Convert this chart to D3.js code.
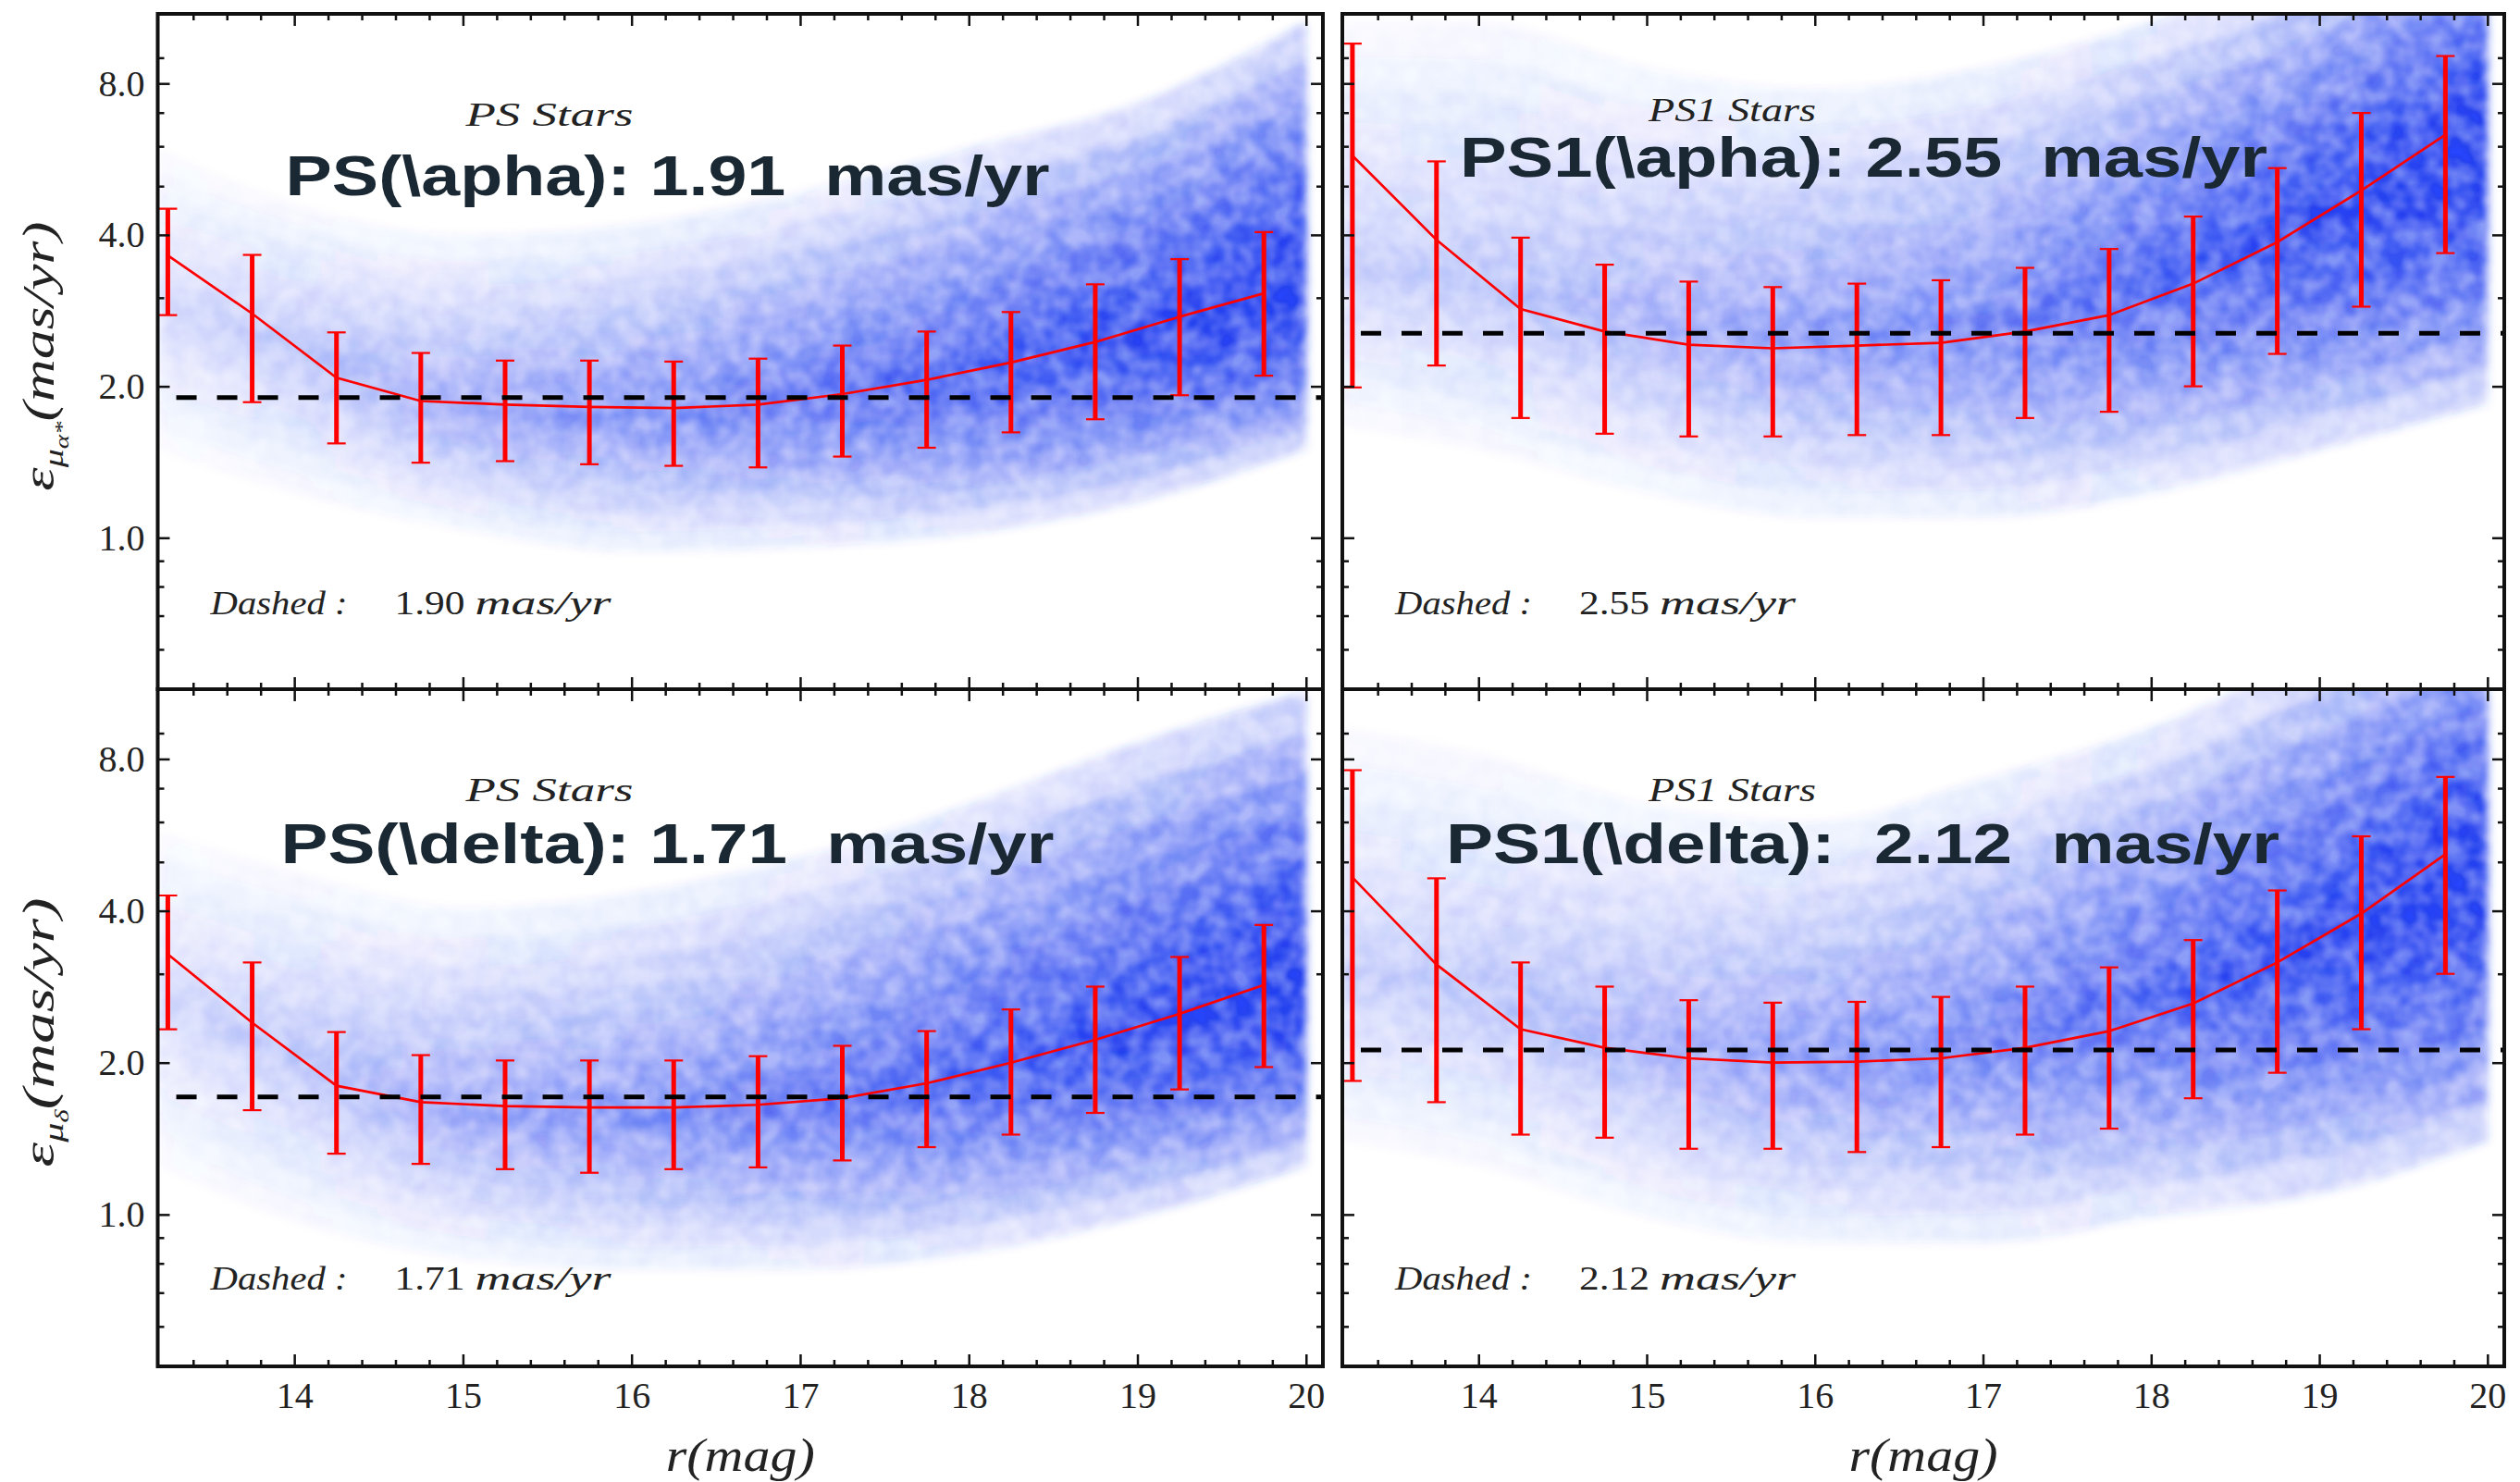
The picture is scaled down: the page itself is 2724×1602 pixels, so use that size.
<!DOCTYPE html>
<html>
<head>
<meta charset="utf-8">
<script src="https://cdn.jsdelivr.net/npm/d3@7"></script>
<style>body{margin:0;background:#fff}</style>
</head>
<body>
<script>
// DATA
var rBins = [13.25, 13.75, 14.25, 14.75, 15.25, 15.75, 16.25, 16.75, 17.25, 17.75, 18.25, 18.75, 19.25, 19.75];

var psAlphaMid = [3.64, 2.79, 2.08, 1.87, 1.84, 1.82, 1.81, 1.84, 1.93, 2.06, 2.23, 2.45, 2.75, 3.06];
var psAlphaHi  = [4.51, 3.65, 2.56, 2.33, 2.25, 2.25, 2.24, 2.27, 2.41, 2.57, 2.81, 3.19, 3.58, 4.05];
var psAlphaLo  = [2.77, 1.86, 1.54, 1.41, 1.42, 1.40, 1.39, 1.38, 1.45, 1.51, 1.62, 1.72, 1.92, 2.10];

var ps1AlphaMid = [5.75, 3.91, 2.85, 2.57, 2.42, 2.38, 2.41, 2.44, 2.57, 2.77, 3.20, 3.87, 4.90, 6.33];
var ps1AlphaHi  = [9.60, 5.60, 3.95, 3.49, 3.23, 3.15, 3.20, 3.25, 3.44, 3.75, 4.35, 5.43, 6.99, 9.07];
var ps1AlphaLo  = [1.99, 2.20, 1.73, 1.61, 1.59, 1.59, 1.60, 1.60, 1.73, 1.78, 2.00, 2.32, 2.88, 3.68];

var psDeltaMid = [3.28, 2.40, 1.80, 1.67, 1.64, 1.63, 1.63, 1.65, 1.70, 1.82, 2.00, 2.22, 2.50, 2.85];
var psDeltaHi  = [4.29, 3.16, 2.30, 2.07, 2.02, 2.02, 2.02, 2.06, 2.16, 2.31, 2.55, 2.83, 3.24, 3.75];
var psDeltaLo  = [2.33, 1.61, 1.32, 1.26, 1.23, 1.21, 1.23, 1.24, 1.28, 1.36, 1.44, 1.59, 1.77, 1.96];

var ps1DeltaMid = [4.66, 3.13, 2.33, 2.14, 2.04, 2.00, 2.01, 2.04, 2.14, 2.31, 2.62, 3.16, 3.95, 5.18];
var ps1DeltaHi  = [7.60, 4.64, 3.16, 2.83, 2.66, 2.63, 2.64, 2.70, 2.83, 3.09, 3.50, 4.39, 5.62, 7.37];
var ps1DeltaLo  = [1.84, 1.67, 1.44, 1.42, 1.35, 1.35, 1.33, 1.36, 1.44, 1.48, 1.70, 1.91, 2.33, 3.00];

var dashedValues = [1.90, 2.55, 1.71, 2.12];
var bigLabels = ["PS(\\apha): 1.91  mas/yr", "PS1(\\apha): 2.55  mas/yr", "PS(\\delta): 1.71  mas/yr", "PS1(\\delta):  2.12  mas/yr"];
var starLabels = ["PS Stars", "PS1 Stars", "PS Stars", "PS1 Stars"];
var dashedText = ["1.90", "2.55", "1.71", "2.12"];

// star cloud (density band)
var cloudR = [13.19, 14, 15, 16, 17, 18, 19, 20];
var psAlphaCloudMid = [2.9, 2.4, 1.8, 1.75, 1.9, 2.1, 2.5, 3.0];
var psAlphaCloudLo  = [1.5, 1.23, 1.04, 0.94, 0.96, 1.02, 1.18, 1.5];
var psAlphaCloudHi  = [5.95, 4.6, 4.0, 4.2, 4.85, 5.95, 7.3, 10.6];
var ps1AlphaCloudMid = [3.5, 3.2, 2.7, 2.5, 2.6, 3.3, 4.3, 6.0];
var ps1AlphaCloudLo  = [1.67, 1.5, 1.23, 1.1, 1.1, 1.23, 1.5, 1.85];
var ps1AlphaCloudHi  = [10.6, 10.6, 8.6, 7.8, 8.6, 10.6, 14, 20];
var psDeltaCloudMid = [2.7, 2.1, 1.6, 1.55, 1.65, 1.9, 2.3, 2.8];
var psDeltaCloudLo  = [1.25, 0.97, 0.82, 0.78, 0.78, 0.84, 0.99, 1.25];
var psDeltaCloudHi  = [5.75, 4.77, 4.05, 4.34, 5.1, 6.5, 8.6, 10.9];
var ps1DeltaCloudMid = [3.0, 2.7, 2.2, 2.05, 2.2, 2.7, 3.5, 4.8];
var ps1DeltaCloudLo  = [1.4, 1.25, 0.99, 0.88, 0.88, 0.99, 1.1, 1.4];
var ps1DeltaCloudHi  = [9.2, 8.2, 6.5, 6.0, 7.3, 9.2, 13, 18];
var psCloudDensity  = [0.2, 0.3, 0.45, 0.55, 0.68, 0.8, 0.9, 0.97];
var ps1CloudDensity = [0.25, 0.3, 0.4, 0.52, 0.62, 0.78, 0.9, 0.97];

var yTicks = [1, 2, 4, 8];
var yMinorTicks = [0.6, 0.7, 0.8, 0.9, 3, 5, 6, 7, 9];
var xTicks = [14, 15, 16, 17, 18, 19, 20];
var xMinorTicks = d3.range(13.4, 20.05, 0.2).filter(function(v){ return Math.abs(v - Math.round(v)) > 0.05; });

// LAYOUT
var width = 2724, height = 1602;
var colX = [[170.5, 1430], [1451, 2707]];
var rowY = [[15, 745], [745, 1477]];
var xDomain = [13.19, 20.1], yDomain = [0.5, 11];
var serif = "'Liberation Serif', 'DejaVu Serif', serif";

var panels = [
  {col:0, row:0, mid:psAlphaMid, hi:psAlphaHi, lo:psAlphaLo, cMid:psAlphaCloudMid, cLo:psAlphaCloudLo, cHi:psAlphaCloudHi, dens:psCloudDensity,
   big:{dx:138, dy:196, w:826}, stars:{dx:333, dy:121}},
  {col:1, row:0, mid:ps1AlphaMid, hi:ps1AlphaHi, lo:ps1AlphaLo, cMid:ps1AlphaCloudMid, cLo:ps1AlphaCloudLo, cHi:ps1AlphaCloudHi, dens:ps1CloudDensity,
   big:{dx:127, dy:176, w:873}, stars:{dx:331, dy:116}},
  {col:0, row:1, mid:psDeltaMid, hi:psDeltaHi, lo:psDeltaLo, cMid:psDeltaCloudMid, cLo:psDeltaCloudLo, cHi:psDeltaCloudHi, dens:psCloudDensity,
   big:{dx:133, dy:188, w:836}, stars:{dx:333, dy:121}},
  {col:1, row:1, mid:ps1DeltaMid, hi:ps1DeltaHi, lo:ps1DeltaLo, cMid:ps1DeltaCloudMid, cLo:ps1DeltaCloudLo, cHi:ps1DeltaCloudHi, dens:ps1CloudDensity,
   big:{dx:112, dy:188, w:901}, stars:{dx:331, dy:121}}
];

var svg = d3.select("body").append("svg")
    .attr("width", width)
    .attr("height", height);

svg.append("rect").attr("width", width).attr("height", height).attr("fill", "#fff");

var defs = svg.append("defs");

// soft grainy look for the star cloud
var filt = defs.append("filter").attr("id", "mottle")
    .attr("filterUnits", "userSpaceOnUse")
    .attr("x", 0).attr("y", 0).attr("width", width).attr("height", height);
filt.append("feGaussianBlur").attr("in", "SourceGraphic").attr("stdDeviation", 5).attr("result", "b");
filt.append("feTurbulence").attr("type", "fractalNoise").attr("baseFrequency", 0.045)
    .attr("numOctaves", 2).attr("seed", 7).attr("result", "n");
filt.append("feColorMatrix").attr("in", "n").attr("type", "matrix")
    .attr("values", "0 0 0 0 1  0 0 0 0 1  0 0 0 0 1  1.8 0 0 0 -0.4").attr("result", "na");
filt.append("feComposite").attr("in", "b").attr("in2", "na").attr("operator", "arithmetic")
    .attr("k1", 0.5).attr("k2", 0.75).attr("k3", 0).attr("k4", 0);

var K = 10;
var cloudColor = "rgb(35,65,240)";

panels.forEach(function(p, pi) {
  var x0 = colX[p.col][0], x1 = colX[p.col][1];
  var y0 = rowY[p.row][0], y1 = rowY[p.row][1];

  var x = d3.scaleLinear().domain(xDomain).range([x0, x1]);
  var y = d3.scaleLog().domain(yDomain).range([y1, y0]);

  defs.append("clipPath").attr("id", "clip" + pi)
    .append("rect").attr("x", x0).attr("y", y0).attr("width", x1 - x0).attr("height", y1 - y0);

  // star cloud as nested density bands (more bands near the core)
  var cloudOuter = svg.append("g").attr("clip-path", "url(#clip" + pi + ")");
  var cloud = cloudOuter.append("g").attr("filter", "url(#mottle)");
  for (var k = K; k >= 1; k--) {
    var f = Math.pow(k / K, 1.5);
    var gid = "grad" + pi + "_" + k;
    var grad = defs.append("linearGradient").attr("id", gid)
        .attr("gradientUnits", "userSpaceOnUse")
        .attr("x1", x(cloudR[0])).attr("x2", x(cloudR[cloudR.length - 1]))
        .attr("y1", 0).attr("y2", 0);
    cloudR.forEach(function(r, i) {
      grad.append("stop")
        .attr("offset", (r - cloudR[0]) / (cloudR[cloudR.length - 1] - cloudR[0]))
        .attr("stop-color", cloudColor)
        .attr("stop-opacity", 1 - Math.pow(1 - 0.95 * p.dens[i], 1 / K));
    });
    var area = d3.area()
        .x(function(d, i) { return x(cloudR[i]); })
        .y0(function(d, i) { return y(p.cMid[i] * Math.pow(p.cLo[i] / p.cMid[i], f)); })
        .y1(function(d, i) { return y(p.cMid[i] * Math.pow(p.cHi[i] / p.cMid[i], f)); })
        .curve(d3.curveMonotoneX);
    cloud.append("path").datum(cloudR).attr("d", area).attr("fill", "url(#" + gid + ")");
  }

  var g = svg.append("g").attr("clip-path", "url(#clip" + pi + ")");

  // error bars
  var bars = g.append("g");
  rBins.forEach(function(r, i) {
    bars.append("line")
      .attr("x1", x(r)).attr("x2", x(r))
      .attr("y1", y(p.lo[i])).attr("y2", y(p.hi[i]))
      .attr("stroke", "#ff0000").attr("stroke-width", 5);
    [p.lo[i], p.hi[i]].forEach(function(v) {
      bars.append("line")
        .attr("x1", x(r) - 10).attr("x2", x(r) + 10)
        .attr("y1", y(v)).attr("y2", y(v))
        .attr("stroke", "#ff0000").attr("stroke-width", 2.2);
    });
  });

  var line = d3.line()
      .x(function(d, i) { return x(rBins[i]); })
      .y(function(d) { return y(d); });
  g.append("path").datum(p.mid).attr("d", line)
    .attr("fill", "none").attr("stroke", "#ff0000").attr("stroke-width", 2.7);

  // dashed mean line
  g.append("line")
    .attr("x1", x(13.3)).attr("x2", x1)
    .attr("y1", y(dashedValues[pi])).attr("y2", y(dashedValues[pi]))
    .attr("stroke", "#000").attr("stroke-width", 5)
    .attr("stroke-dasharray", "22,22");

  // texts inside panel
  svg.append("text")
    .attr("x", x0 + p.stars.dx).attr("y", y0 + p.stars.dy)
    .attr("font-family", serif).attr("font-style", "italic")
    .attr("font-size", 35).attr("fill", "#222")
    .attr("textLength", 181).attr("lengthAdjust", "spacingAndGlyphs")
    .text(starLabels[pi]);

  var dl = svg.append("g").attr("transform", "translate(" + (x0 + 57) + "," + (y0 + 649) + ")")
    .attr("font-family", serif).attr("font-size", 36).attr("fill", "#222");
  dl.append("text").attr("x", 0).attr("font-style", "italic")
    .attr("textLength", 148).attr("lengthAdjust", "spacingAndGlyphs").text("Dashed :");
  dl.append("text").attr("x", 199)
    .attr("textLength", 76).attr("lengthAdjust", "spacingAndGlyphs").text(dashedText[pi]);
  dl.append("text").attr("x", 286).attr("font-style", "italic")
    .attr("textLength", 147).attr("lengthAdjust", "spacingAndGlyphs").text("mas/yr");

  // axes, ticks inward on all four sides
  var tickG = svg.append("g");
  function styleAxis(sel) {
    sel.select(".domain").remove();
    sel.selectAll("line").attr("stroke", "#111").attr("stroke-width", 2.5);
    sel.selectAll("text").attr("fill", "#222");
    sel.attr("font-family", serif).attr("font-size", 40);
  }
  tickG.append("g").attr("transform", "translate(" + x0 + ",0)")
    .call(d3.axisLeft(y).tickValues(yTicks).tickSize(-13).tickPadding(14)
      .tickFormat(p.col === 0 ? d3.format(".1f") : ""))
    .call(styleAxis);
  tickG.append("g").attr("transform", "translate(" + x0 + ",0)")
    .call(d3.axisLeft(y).tickValues(yMinorTicks).tickSize(-7).tickFormat(""))
    .call(styleAxis);
  tickG.append("g").attr("transform", "translate(" + x1 + ",0)")
    .call(d3.axisRight(y).tickValues(yTicks).tickSize(-13).tickFormat(""))
    .call(styleAxis);
  tickG.append("g").attr("transform", "translate(" + x1 + ",0)")
    .call(d3.axisRight(y).tickValues(yMinorTicks).tickSize(-7).tickFormat(""))
    .call(styleAxis);
  tickG.append("g").attr("transform", "translate(0," + y0 + ")")
    .call(d3.axisTop(x).tickValues(xTicks).tickSize(-13).tickFormat(""))
    .call(styleAxis);
  tickG.append("g").attr("transform", "translate(0," + y0 + ")")
    .call(d3.axisTop(x).tickValues(xMinorTicks).tickSize(-7).tickFormat(""))
    .call(styleAxis);
  tickG.append("g").attr("transform", "translate(0," + y1 + ")")
    .call(d3.axisBottom(x).tickValues(xTicks).tickSize(-13).tickPadding(17)
      .tickFormat(p.row === 1 ? d3.format("d") : ""))
    .call(styleAxis);
  tickG.append("g").attr("transform", "translate(0," + y1 + ")")
    .call(d3.axisBottom(x).tickValues(xMinorTicks).tickSize(-7).tickFormat(""))
    .call(styleAxis);

  svg.append("rect")
    .attr("x", x0).attr("y", y0).attr("width", x1 - x0).attr("height", y1 - y0)
    .attr("fill", "none").attr("stroke", "#111").attr("stroke-width", 4);

  // x label
  if (p.row === 1) {
    svg.append("text")
      .attr("x", (x0 + x1) / 2).attr("y", 1590)
      .attr("text-anchor", "middle")
      .attr("font-family", serif).attr("font-style", "italic")
      .attr("font-size", 50).attr("fill", "#222")
      .attr("textLength", 161).attr("lengthAdjust", "spacingAndGlyphs")
      .text("r(mag)");
  }

  // y label
  if (p.col === 0) {
    var yl = svg.append("text")
      .attr("transform", "translate(58," + ((y0 + y1) / 2 + 5) + ") rotate(-90)")
      .attr("text-anchor", "middle")
      .attr("font-family", serif).attr("font-style", "italic")
      .attr("font-size", 48).attr("fill", "#222")
      .attr("textLength", 291).attr("lengthAdjust", "spacingAndGlyphs");
    yl.append("tspan").text("\u03b5");
    yl.append("tspan").attr("font-size", 30).attr("dy", 10).text("\u03bc");
    yl.append("tspan").attr("font-size", 22).attr("dy", 6).text(p.row === 0 ? "\u03b1*" : "\u03b4");
    yl.append("tspan").attr("dy", -16).text("(mas/yr)");
  }

  // pasted overlay label
  svg.append("text")
    .attr("x", x0 + p.big.dx).attr("y", y0 + p.big.dy)
    .attr("font-family", "'Liberation Sans', Arial, sans-serif")
    .attr("font-weight", "bold").attr("font-size", 61)
    .attr("fill", "#1a2833")
    .style("white-space", "pre")
    .attr("textLength", p.big.w).attr("lengthAdjust", "spacingAndGlyphs")
    .text(bigLabels[pi]);
});
</script>
</body>
</html>
